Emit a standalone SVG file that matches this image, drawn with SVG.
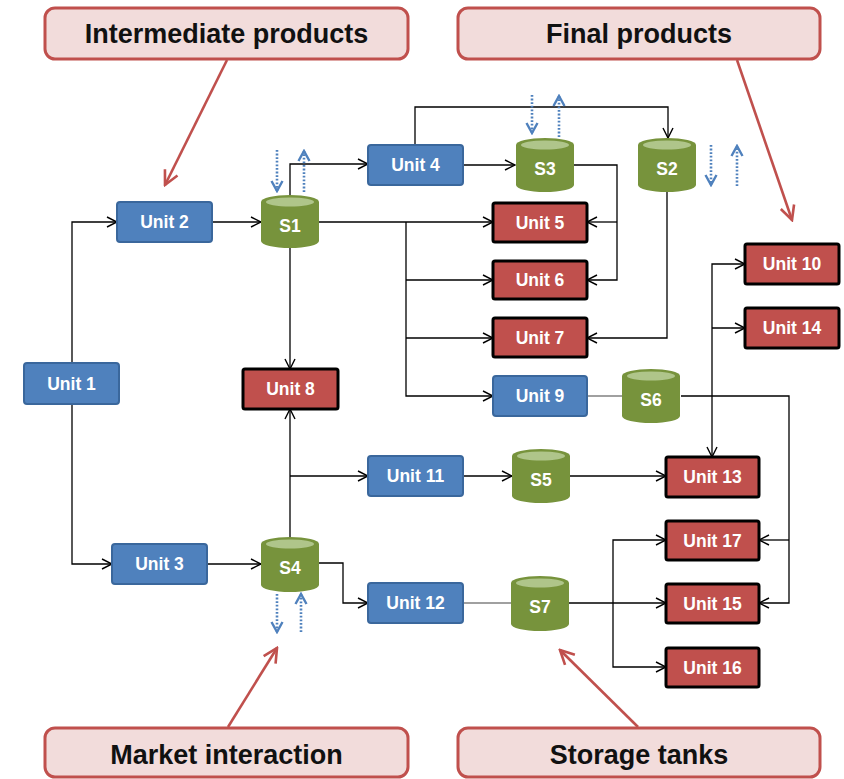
<svg xmlns="http://www.w3.org/2000/svg" width="844" height="779" viewBox="0 0 844 779">
<style>
.callout rect{fill:#f2dcdb;stroke:#c0504d;stroke-width:3}
.callout text{font-family:"Liberation Sans",Arial,sans-serif;font-weight:bold;font-size:27px;fill:#111;text-anchor:middle;dominant-baseline:central}
.blue rect{fill:#4f81bd;stroke:#3a679c;stroke-width:2}
.red rect{fill:#c0504d;stroke:#000;stroke-width:3}
.node text{font-family:"Liberation Sans",Arial,sans-serif;font-weight:bold;font-size:17.5px;fill:#fff;text-anchor:middle;dominant-baseline:central}
.tank .body{fill:#77933c}
.tank .lid{fill:#afc58a}
.conn path{fill:none;stroke:#000;stroke-width:1.3}
.conn path.grey{stroke:#808080}
.dots path{fill:none;stroke:#4f81bd;stroke-width:2.6;stroke-dasharray:1.8 1.8}
.red-arrows path{fill:none;stroke:#c0504d;stroke-width:2.6}
</style>
<defs>
<marker id="ah" markerUnits="userSpaceOnUse" markerWidth="12" markerHeight="12" viewBox="0 0 12 12" refX="11" refY="6" orient="auto">
<path d="M1,1 L11,6 L1,11" fill="none" stroke="#000" stroke-width="1.4"/>
</marker>
<marker id="bh" markerUnits="userSpaceOnUse" markerWidth="14" markerHeight="14" viewBox="0 0 14 14" refX="12" refY="7" orient="auto">
<path d="M2,1.5 L12,7 L2,12.5" fill="none" stroke="#4f81bd" stroke-width="2.4"/>
</marker>
<marker id="rh" markerUnits="userSpaceOnUse" markerWidth="18" markerHeight="18" viewBox="0 0 18 18" refX="16" refY="9" orient="auto">
<path d="M2,2 L16,9 L2,16" fill="none" stroke="#c0504d" stroke-width="2.6"/>
</marker>
</defs>

<g id="callouts">
<g id="callout-intermediate" class="callout"><rect x="45" y="8" width="363" height="51" rx="10"/><text x="226.5" y="34">Intermediate products</text></g>
<g id="callout-final" class="callout"><rect x="458" y="8" width="362" height="51" rx="10"/><text x="639" y="34">Final products</text></g>
<g id="callout-market" class="callout"><rect x="45" y="728" width="363" height="49" rx="10"/><text x="226.5" y="755">Market interaction</text></g>
<g id="callout-storage" class="callout"><rect x="458" y="728" width="362" height="49" rx="10"/><text x="639" y="755">Storage tanks</text></g>
</g>

<g id="callout-arrows" class="red-arrows">
<path d="M227,60 L165,185" marker-end="url(#rh)"/>
<path d="M737,60 L792,220" marker-end="url(#rh)"/>
<path d="M228,727 L277,648" marker-end="url(#rh)"/>
<path d="M638,727 L560,650" marker-end="url(#rh)"/>
</g>

<g id="connectors" class="conn">
<path d="M72,363 V222 H117" marker-end="url(#ah)"/>
<path d="M72,404 V564 H112" marker-end="url(#ah)"/>
<path d="M212,222 H261" marker-end="url(#ah)"/>
<path d="M290,195 V164 H368" marker-end="url(#ah)"/>
<path d="M415,145 V107 H668 V138" marker-end="url(#ah)"/>
<path d="M463,165 H515" marker-end="url(#ah)"/>
<path d="M574,165 H617 V280 H587" marker-end="url(#ah)"/>
<path d="M617,222 H587" marker-end="url(#ah)"/>
<path d="M319,222 H493" marker-end="url(#ah)"/>
<path d="M406,222 V396 H493" marker-end="url(#ah)"/>
<path d="M406,280 H493" marker-end="url(#ah)"/>
<path d="M406,338 H493" marker-end="url(#ah)"/>
<path d="M290,248 V369" marker-end="url(#ah)"/>
<path d="M667,192 V338 H587" marker-end="url(#ah)"/>
<path class="grey" d="M587,396 H622"/>
<path d="M681,396 H789 V603 H759" marker-end="url(#ah)"/>
<path d="M789,540 H759" marker-end="url(#ah)"/>
<path d="M712,396 V264 H745" marker-end="url(#ah)"/>
<path d="M712,328 H745" marker-end="url(#ah)"/>
<path d="M712,396 V457" marker-end="url(#ah)"/>
<path d="M290,537 V409" marker-end="url(#ah)"/>
<path d="M290,476 H368" marker-end="url(#ah)"/>
<path d="M207,564 H261" marker-end="url(#ah)"/>
<path d="M319,563 H343 V603 H368" marker-end="url(#ah)"/>
<path d="M463,476 H512" marker-end="url(#ah)"/>
<path d="M570,476 H666" marker-end="url(#ah)"/>
<path class="grey" d="M463,603 H511"/>
<path d="M569,603 H666" marker-end="url(#ah)"/>
<path d="M613,603 V540 H666" marker-end="url(#ah)"/>
<path d="M613,603 V667 H666" marker-end="url(#ah)"/>
</g>

<g id="market-flows" class="dots">
<path d="M277,150 V191" marker-end="url(#bh)"/>
<path d="M304,192 V151" marker-end="url(#bh)"/>
<path d="M532,95 V133" marker-end="url(#bh)"/>
<path d="M559,137 V96" marker-end="url(#bh)"/>
<path d="M711,145 V185" marker-end="url(#bh)"/>
<path d="M737,186 V146" marker-end="url(#bh)"/>
<path d="M277,594 V632" marker-end="url(#bh)"/>
<path d="M301,632 V594" marker-end="url(#bh)"/>
</g>

<g id="unit1" class="node blue"><rect x="24" y="363" width="95" height="41" rx="3"/><text x="71.5" y="383.5">Unit 1</text></g>
<g id="unit2" class="node blue"><rect x="117" y="202" width="95" height="40" rx="3"/><text x="164.5" y="222">Unit 2</text></g>
<g id="unit3" class="node blue"><rect x="112" y="544" width="95" height="40" rx="3"/><text x="159.5" y="564">Unit 3</text></g>
<g id="unit4" class="node blue"><rect x="368" y="145" width="95" height="40" rx="3"/><text x="415.5" y="165">Unit 4</text></g>
<g id="unit5" class="node red"><rect x="493" y="203" width="94" height="39" rx="2"/><text x="540" y="222.5">Unit 5</text></g>
<g id="unit6" class="node red"><rect x="493" y="261" width="94" height="38" rx="2"/><text x="540" y="280">Unit 6</text></g>
<g id="unit7" class="node red"><rect x="493" y="318" width="94" height="39" rx="2"/><text x="540" y="337.5">Unit 7</text></g>
<g id="unit8" class="node red"><rect x="243" y="369" width="95" height="40" rx="2"/><text x="290.5" y="389">Unit 8</text></g>
<g id="unit9" class="node blue"><rect x="493" y="376" width="94" height="40" rx="3"/><text x="540" y="396">Unit 9</text></g>
<g id="unit10" class="node red"><rect x="745" y="244" width="94" height="40" rx="2"/><text x="792" y="264">Unit 10</text></g>
<g id="unit11" class="node blue"><rect x="368" y="456" width="95" height="40" rx="3"/><text x="415.5" y="476">Unit 11</text></g>
<g id="unit12" class="node blue"><rect x="368" y="583" width="95" height="40" rx="3"/><text x="415.5" y="603">Unit 12</text></g>
<g id="unit13" class="node red"><rect x="666" y="457" width="93" height="40" rx="2"/><text x="712.5" y="477">Unit 13</text></g>
<g id="unit14" class="node red"><rect x="745" y="308" width="94" height="40" rx="2"/><text x="792" y="328">Unit 14</text></g>
<g id="unit15" class="node red"><rect x="666" y="584" width="93" height="39" rx="2"/><text x="712.5" y="603.5">Unit 15</text></g>
<g id="unit16" class="node red"><rect x="666" y="648" width="93" height="39" rx="2"/><text x="712.5" y="667.5">Unit 16</text></g>
<g id="unit17" class="node red"><rect x="666" y="521" width="93" height="39" rx="2"/><text x="712.5" y="540.5">Unit 17</text></g>

<g id="S1" class="node tank"><path class="body" d="M261,202 A29,7 0 0 1 319,202 V241 A29,7 0 0 1 261,241 Z"/><ellipse class="lid" cx="290" cy="202" rx="24" ry="4.5"/><text x="290" y="226">S1</text></g>
<g id="S2" class="node tank"><path class="body" d="M638,145 A29,7 0 0 1 696,145 V185 A29,7 0 0 1 638,185 Z"/><ellipse class="lid" cx="667" cy="145" rx="24" ry="4.5"/><text x="667" y="169">S2</text></g>
<g id="S3" class="node tank"><path class="body" d="M516,145 A29,7 0 0 1 574,145 V185 A29,7 0 0 1 516,185 Z"/><ellipse class="lid" cx="545" cy="145" rx="24" ry="4.5"/><text x="545" y="169">S3</text></g>
<g id="S4" class="node tank"><path class="body" d="M261,544 A29,7 0 0 1 319,544 V585 A29,7 0 0 1 261,585 Z"/><ellipse class="lid" cx="290" cy="544" rx="24" ry="4.5"/><text x="290" y="568">S4</text></g>
<g id="S5" class="node tank"><path class="body" d="M512,456 A29,7 0 0 1 570,456 V496 A29,7 0 0 1 512,496 Z"/><ellipse class="lid" cx="541" cy="456" rx="24" ry="4.5"/><text x="541" y="480">S5</text></g>
<g id="S6" class="node tank"><path class="body" d="M622,376 A29,7 0 0 1 680,376 V416 A29,7 0 0 1 622,416 Z"/><ellipse class="lid" cx="651" cy="376" rx="24" ry="4.5"/><text x="651" y="400">S6</text></g>
<g id="S7" class="node tank"><path class="body" d="M511,583 A29,7 0 0 1 569,583 V624 A29,7 0 0 1 511,624 Z"/><ellipse class="lid" cx="540" cy="583" rx="24" ry="4.5"/><text x="540" y="607">S7</text></g>
</svg>
